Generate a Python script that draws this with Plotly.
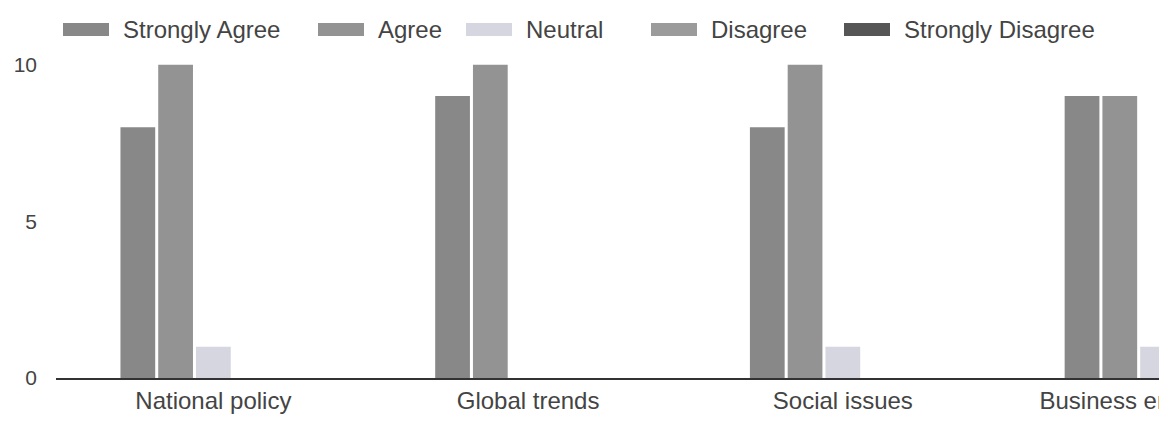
import plotly.graph_objects as go

categories = ["National policy", "Global trends", "Social issues", "Business environment"]
series_names = ["Strongly Agree", "Agree", "Neutral", "Disagree", "Strongly Disagree"]
strongly_agree = [8, 9, 8, 9]
agree = [10, 10, 10, 9]
neutral = [1, 0, 1, 1]
disagree = [0, 0, 0, 0]
strongly_disagree = [0, 0, 0, 0]
y_ticks = [0, 5, 10]

series_values = [strongly_agree, agree, neutral, disagree, strongly_disagree]
colors = ["#888888", "#939393", "#d6d6e0", "#9b9b9b", "#565656"]

# page body has an 8px margin, so the figure is 8px smaller than the window
W, H = 1159, 414
L, T, B = 48, 41, 44
plot_w = W - L
plot_h = H - T - B

fig = go.Figure()
for name, vals, col in zip(series_names, series_values, colors):
    fig.add_trace(go.Bar(x=categories, y=vals, name=name, marker_color=col,
                         marker_line_width=0, showlegend=False))

# hand-made legend with wide swatches like the original
legend_x = [55, 310, 458, 643, 836]
for name, col, px in zip(series_names, colors, legend_x):
    fig.add_shape(type="rect", xref="paper", yref="paper",
                  x0=(px - L) / plot_w, x1=(px + 46 - L) / plot_w,
                  y0=(H - B - 28) / plot_h, y1=(H - B - 15) / plot_h,
                  fillcolor=col, line_width=0)
    fig.add_annotation(xref="paper", yref="paper", x=(px + 58 - L) / plot_w,
                       y=(H - B - 21) / plot_h, text=name, showarrow=False,
                       xanchor="left", yanchor="middle",
                       font=dict(size=24, color="#444444"))

fig.update_layout(
    width=W, height=H,
    margin=dict(l=L, r=0, t=T, b=B, pad=0),
    barmode="group", bargap=0.4, bargroupgap=0.08,
    plot_bgcolor="white", paper_bgcolor="white",
    font=dict(family="Liberation Sans, Arial, sans-serif", color="#444444"),
)
fig.update_xaxes(range=[-0.5, 3.03], showline=True, linecolor="#333333", linewidth=2,
                 showgrid=False, ticks="", tickfont=dict(size=24),
                 ticklabelstandoff=0, automargin=False)
fig.update_yaxes(range=[0, 10.5], tickvals=y_ticks, showgrid=False, zeroline=False,
                 showline=False, ticks="", tickfont=dict(size=21),
                 ticklabelstandoff=18, automargin=False)

fig.write_html("out.html")
